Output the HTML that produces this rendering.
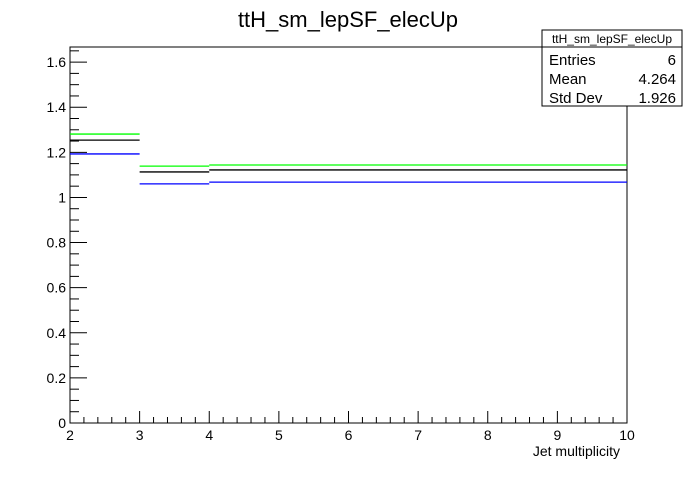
<!DOCTYPE html>
<html><head><meta charset="utf-8"><style>
body{margin:0;background:#fff;}
svg text{font-family:"Liberation Sans",sans-serif;}
</style></head><body>
<svg id="c" width="696" height="472">
<text x="348" y="27" font-size="22" text-anchor="middle">ttH_sm_lepSF_elecUp</text>
<rect x="70" y="47" width="557" height="376" fill="none" stroke="#000"/>
<g id="axes"></g>
<g id="series"></g>
<text x="620" y="456" font-size="14" text-anchor="end">Jet multiplicity</text>
<g>
<rect x="542" y="30" width="140" height="76" fill="#fff" stroke="#000"/>
<line x1="542" y1="47" x2="682" y2="47" stroke="#000"/>
<text x="612" y="43" font-size="12" text-anchor="middle">ttH_sm_lepSF_elecUp</text>
<text x="549" y="65" font-size="15">Entries</text><text x="676" y="65" font-size="15" text-anchor="end">6</text>
<text x="549" y="84" font-size="15">Mean</text><text x="676" y="84" font-size="15" text-anchor="end">4.264</text>
<text x="549" y="103" font-size="15">Std Dev</text><text x="676" y="103" font-size="15" text-anchor="end">1.926</text>
</g>
</svg>
<script>
const binEdges=[2,3,4,10];
const greenVals=[1.281,1.139,1.144];
const blackVals=[1.254,1.113,1.122];
const blueVals=[1.193,1.060,1.068];
const yTicks=[0,0.2,0.4,0.6,0.8,1,1.2,1.4,1.6];
const xTicks=[2,3,4,5,6,7,8,9,10];
const X0=70,X1=627,Y0=423,Y1=47,xmin=2,xmax=10,ymin=0,ymax=1.667;
const sx=v=>X0+(v-xmin)/(xmax-xmin)*(X1-X0);
const sy=v=>Y0-(v-ymin)/(ymax-ymin)*(Y0-Y1);
const NS="http://www.w3.org/2000/svg";
const ax=document.getElementById('axes'),se=document.getElementById('series');
function ln(p,x1,y1,x2,y2,c,w){const l=document.createElementNS(NS,'line');l.setAttribute('x1',x1);l.setAttribute('y1',y1);l.setAttribute('x2',x2);l.setAttribute('y2',y2);l.setAttribute('stroke',c);l.setAttribute('stroke-width',w||1);p.appendChild(l);return l;}
function tx(p,x,y,s,a){const t=document.createElementNS(NS,'text');t.setAttribute('x',x);t.setAttribute('y',y);t.setAttribute('font-size',14);t.setAttribute('text-anchor',a);t.textContent=s;p.appendChild(t);return t;}
for(let v=0;v<=ymax+1e-9;v+=0.05){const y=sy(v);const maj=Math.abs(v*5-Math.round(v*5))<1e-6;const l=ln(ax,X0,y,X0+(maj?17:9),y,'#000');

}
yTicks.forEach(v=>{const t=tx(ax,X0-4,sy(v)+5,String(v),'end');

});
for(let v=xmin;v<=xmax+1e-9;v+=0.2){const x=sx(v);const maj=Math.abs(v-Math.round(v))<1e-6;const l=ln(ax,x,Y0,x,Y0-(maj?12:6),'#000');

}
xTicks.forEach(v=>{const t=tx(ax,sx(v),Y0+17,String(v),'middle');

});
function hist(vals,col,name){for(let i=0;i<vals.length;i++){const l=ln(se,sx(binEdges[i]),sy(vals[i]),sx(binEdges[i+1]),sy(vals[i]),col,1.3);

}}
hist(greenVals,'#00ff00','green-hist');
hist(blackVals,'#000000','black-hist');
hist(blueVals,'#0000ff','blue-hist');
</script>
</body></html>
